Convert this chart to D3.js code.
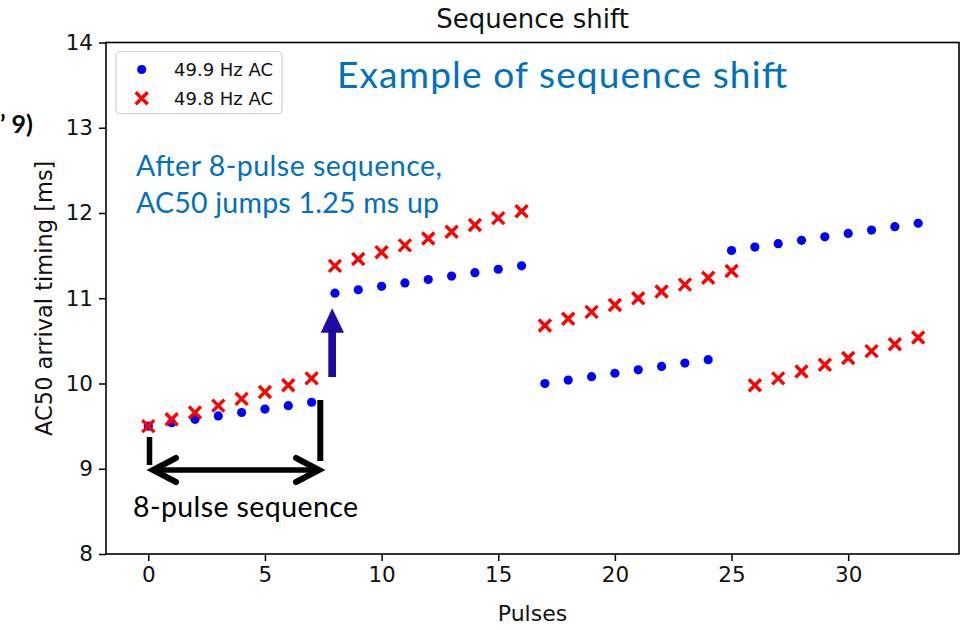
<!DOCTYPE html>
<html>
<head>
<meta charset="utf-8">
<script src="https://cdn.jsdelivr.net/npm/d3@7"></script>
<style>
  html, body { margin: 0; padding: 0; background: #fff; }
  svg { display: block; }
</style>
</head>
<body>
<svg id="chart" width="960" height="630"></svg>
<script>
// ---- data ----
const pulses = d3.range(0, 34);
const blue499 = [
  9.50, 9.54, 9.58, 9.62, 9.66, 9.70, 9.74, 9.78,
  11.06, 11.10, 11.14, 11.18, 11.22, 11.26, 11.30, 11.34, 11.38,
  10.00, 10.04, 10.08, 10.12, 10.16, 10.20, 10.24, 10.28,
  11.56, 11.60, 11.64, 11.68, 11.72, 11.76, 11.80, 11.84, 11.88
];
const red498 = [
  9.50, 9.58, 9.66, 9.74, 9.82, 9.90, 9.98, 10.06,
  11.38, 11.46, 11.54, 11.62, 11.70, 11.78, 11.86, 11.94, 12.02,
  10.68, 10.76, 10.84, 10.92, 11.00, 11.08, 11.16, 11.24, 11.32,
  9.98, 10.06, 10.14, 10.22, 10.30, 10.38, 10.46, 10.54
];
const xTicks = [0, 5, 10, 15, 20, 25, 30];
const yTicks = [8, 9, 10, 11, 12, 13, 14];
const seriesNames = ["49.9 Hz AC", "49.8 Hz AC"];

// ---- layout ----
const svg = d3.select("#chart");
const L = 106, R = 959, T = 42.5, B = 554;
const x = d3.scaleLinear().domain([-1.813, 34.75]).range([L, R]);
const y = d3.scaleLinear().domain([8, 14]).range([B, T]);

const tickFont = "DejaVu Sans, sans-serif";
const noteFont = "Lato, 'Open Sans', sans-serif";

// axes
const xAxis = svg.append("g").attr("transform", `translate(0,${B})`)
  .call(d3.axisBottom(x).tickValues(xTicks).tickSize(7).tickPadding(6).tickFormat(d3.format("d")));
const yAxis = svg.append("g").attr("transform", `translate(${L},0)`)
  .call(d3.axisLeft(y).tickValues(yTicks).tickSize(7).tickPadding(6).tickFormat(d3.format("d")));
[xAxis, yAxis].forEach(g => {
  g.select(".domain").remove();
  g.selectAll(".tick line").attr("stroke", "#000").attr("stroke-width", 1.5);
  g.selectAll(".tick text").attr("fill", "#111").style("font-family", tickFont).style("font-size", "21.5px");
});

// frame
svg.append("rect").attr("x", L).attr("y", T).attr("width", R - L).attr("height", B - T)
  .attr("fill", "none").attr("stroke", "#000").attr("stroke-width", 1.6);

// title & labels
svg.append("text").attr("x", (L + R) / 2).attr("y", 28).attr("text-anchor", "middle")
  .style("font-family", tickFont).style("font-size", "26px").attr("fill", "#111").text("Sequence shift");
svg.append("text").attr("x", (L + R) / 2).attr("y", 621).attr("text-anchor", "middle")
  .style("font-family", tickFont).style("font-size", "22px").attr("fill", "#111").text("Pulses");
svg.append("text").attr("transform", `translate(52,${(T + B) / 2}) rotate(-90)`).attr("text-anchor", "middle")
  .style("font-family", tickFont).style("font-size", "22.5px").attr("fill", "#111").text("AC50 arrival timing [ms]");

// partial text at the left edge (only its tail is visible in the source)
svg.append("text").attr("x", 0).attr("y", 133)
  .style("font-family", noteFont).style("font-weight", "bold").style("font-size", "25px").attr("fill", "#000")
  .text("\u2019 9)");

// ---- marks ----
const plot = svg.append("g");
plot.selectAll("circle.blue").data(pulses).join("circle").attr("class", "blue")
  .attr("cx", d => x(d)).attr("cy", d => y(blue499[d])).attr("r", 4.6).attr("fill", "#0000ff");

const xs = 6;
function crossPath(cx, cy, s) {
  return `M${cx - s},${cy - s}L${cx + s},${cy + s}M${cx - s},${cy + s}L${cx + s},${cy - s}`;
}
plot.selectAll("path.red").data(pulses).join("path").attr("class", "red")
  .attr("d", d => crossPath(x(d), y(red498[d]), xs))
  .attr("stroke", "#ff0000").attr("stroke-width", 3.4).attr("fill", "none");

// ---- legend ----
const lg = svg.append("g");
lg.append("rect").attr("x", 116).attr("y", 51.5).attr("width", 166).attr("height", 62).attr("rx", 4)
  .attr("fill", "#fff").attr("fill-opacity", 0.85).attr("stroke", "#d0d0d0").attr("stroke-width", 1.2);
lg.append("circle").attr("cx", 141.7).attr("cy", 69.5).attr("r", 4.6).attr("fill", "#0000ff");
lg.append("path").attr("d", crossPath(141.7, 98.3, xs)).attr("stroke", "#ff0000").attr("stroke-width", 3.4);
lg.selectAll("text.lt").data(seriesNames).join("text").attr("class", "lt")
  .attr("x", 174).attr("y", (d, i) => 75.5 + i * 29)
  .style("font-family", tickFont).style("font-size", "18px").attr("fill", "#111").text(d => d);

// ---- annotations ----
const blueNote = "#0070c0";
function note(txt, xx, yy, size, width, col) {
  svg.append("text").attr("x", xx).attr("y", yy)
    .attr("textLength", width).attr("lengthAdjust", "spacing")
    .style("font-family", noteFont).style("font-size", size + "px").attr("fill", col).text(txt);
}
note("Example of sequence shift", 337, 88, 37, 450, blueNote);
note("After 8-pulse sequence,", 136, 176, 28.5, 306, blueNote);
note("AC50 jumps 1.25 ms up", 136, 213, 28.5, 303, blueNote);
note("8-pulse sequence", 133, 517, 28.5, 225, "#000");

// black bracket lines
svg.append("line").attr("x1", 149.5).attr("y1", 437).attr("x2", 149.5).attr("y2", 465)
  .attr("stroke", "#000").attr("stroke-width", 5.5);
svg.append("line").attr("x1", 320.3).attr("y1", 400).attr("x2", 320.3).attr("y2", 461)
  .attr("stroke", "#000").attr("stroke-width", 6);
// double arrow
svg.append("line").attr("x1", 154).attr("y1", 470).attr("x2", 318).attr("y2", 470)
  .attr("stroke", "#000").attr("stroke-width", 5.5);
svg.append("path").attr("d", "M176,458L153,470L176,482M296,458L319,470L296,482")
  .attr("fill", "none").attr("stroke", "#000").attr("stroke-width", 6)
  .attr("stroke-linecap", "round").attr("stroke-linejoin", "miter");

// blue up arrow
const arrowCol = "#1e0ca2";
svg.append("rect").attr("x", 328.3).attr("y", 331).attr("width", 7.7).attr("height", 46).attr("fill", arrowCol);
svg.append("path").attr("d", "M320.7,332.7L332.2,308.3L344,332.7Z").attr("fill", arrowCol);
</script>
</body>
</html>
